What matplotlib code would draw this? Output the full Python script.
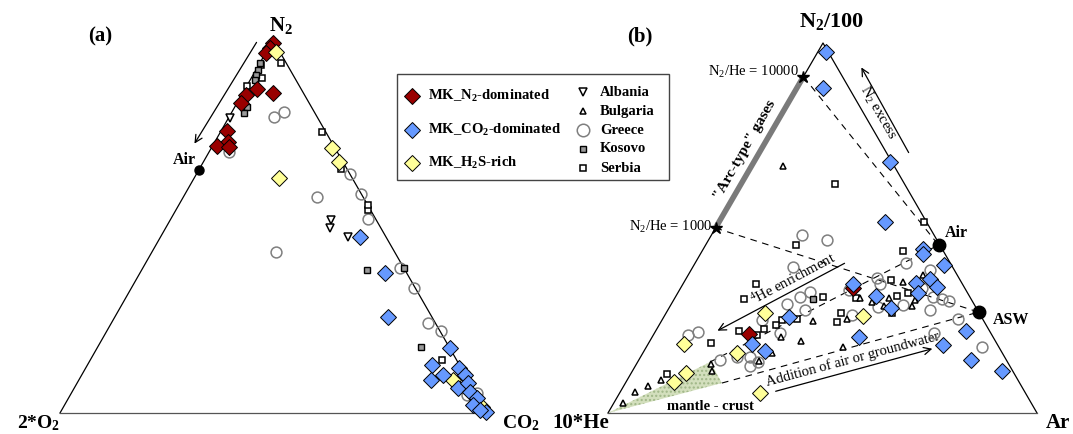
import matplotlib
matplotlib.use('Agg')
import matplotlib.pyplot as plt
import numpy as np
from matplotlib.patches import Polygon, Rectangle

plt.rcParams['font.family'] = ['Liberation Serif', 'DejaVu Serif']
plt.rcParams['mathtext.default'] = 'regular'

# ---------------- DATA ----------------
# Panel (a): ternary % of N2 (top) and CO2 (right); 2*O2 = remainder
a_red_n2 = [99.2, 97.9, 96.5, 86.9, 85.8, 85.3, 83.1, 75.6, 72.7, 71.6, 71.3]
a_red_co2 = [0.3, 0.3, 0.0, 2.7, 7.0, 1.0, 1.0, 1.3, 3.0, 1.0, 3.9]
a_blue_n2 = [47.2, 37.5, 25.7, 17.4, 12.9, 8.8, 10.2, 12.1, 10.2, 6.7, 8.0, 5.6, 4.0, 2.1, 0.3, 0.8]
a_blue_co2 = [46.7, 57.3, 64.1, 82.6, 80.7, 82.5, 84.6, 87.4, 89.7, 89.8, 91.6, 93.2, 95.7, 95.6, 99.7, 98.0]
a_yel_n2 = [96.8, 63.0, 71.0, 67.3, 8.8, 1.6]
a_yel_co2 = [2.4, 19.8, 28.4, 31.7, 87.6, 98.0]
a_gre_n2 = [80.7, 79.4, 70.0, 57.9, 43.2, 64.1, 58.7, 52.0, 38.9, 33.5, 24.1, 22.0, 10.2, 4.8, 5.4]
a_gre_co2 = [12.1, 10.4, 4.6, 31.2, 29.0, 35.9, 41.1, 46.1, 60.2, 66.3, 74.1, 78.2, 89.7, 92.9, 95.0]
a_alb_n2 = [79.1, 51.7, 49.6, 47.2]
a_alb_co2 = [0.3, 37.6, 38.4, 43.8]
a_kos_n2 = [93.8, 92.0, 90.6, 89.3, 82.0, 80.4, 38.3, 17.7, 38.9]
a_kos_co2 = [0.0, 0.4, 0.8, 1.1, 2.8, 3.1, 52.9, 75.7, 61.2]
a_ser_n2 = [93.8, 89.8, 93.3, 87.7, 75.3, 65.4, 54.4, 14.2, 55.8]
a_ser_co2 = [4.9, 2.6, 0.5, 0.0, 23.7, 33.3, 44.9, 82.4, 44.2]

# Panel (b): ternary % of N2/100 (top) and Ar (right); 10*He = remainder
b_blue_n2 = [97.6, 87.8, 67.8, 51.6, 44.3, 43.0, 40.0, 34.9, 35.1, 36.2, 34.1, 32.4, 31.6, 28.4,
             25.9, 18.6, 16.8, 20.5, 22.2, 18.4, 14.3, 11.4]
b_blue_ar = [1.8, 6.0, 31.8, 38.8, 51.2, 51.9, 58.3, 39.7, 54.2, 57.0, 59.7, 56.1, 46.7, 51.8,
             29.2, 24.3, 28.2, 48.2, 72.3, 68.9, 77.4, 86.1]
b_red_n2 = [33.8, 21.4]
b_red_ar = [40.2, 22.2]
b_yel_n2 = [27.0, 18.6, 16.2, 10.8, 8.4, 26.2, 5.4]
b_yel_ar = [23.1, 8.4, 22.0, 12.8, 11.2, 46.3, 32.7]
b_gre_n2 = [48.1, 46.8, 39.5, 40.5, 36.5, 34.9, 33.2, 38.6, 33.8, 31.4, 30.8, 30.3, 27.8, 29.2,
            28.6, 26.5, 25.4, 21.6, 17.8, 31.4, 32.7, 27.8, 29.5, 25.1, 21.9, 21.1, 15.1, 14.3,
            15.1, 13.8, 12.7, 21.6]
b_gre_ar = [21.1, 27.6, 23.4, 49.2, 44.5, 46.0, 39.6, 55.8, 56.3, 60.1, 62.5, 64.4, 61.2, 54.2,
            48.6, 43.7, 68.9, 65.2, 78.3, 29.1, 30.7, 32.0, 27.0, 23.3, 10.1, 8.1, 22.5, 18.9,
            25.5, 28.1, 26.7, 29.3]
b_ser_n2 = [61.9, 51.6, 43.8, 45.4, 34.9, 30.8, 25.1, 25.4, 23.8, 22.7, 18.9, 22.2, 21.1, 10.5,
            31.4, 31.1, 35.9, 31.6, 32.4, 27.0, 27.0, 24.6]
b_ser_ar = [22.0, 47.9, 46.9, 21.1, 16.9, 16.3, 28.0, 31.4, 27.3, 25.0, 14.5, 19.4, 24.2, 8.5,
            34.4, 42.3, 48.0, 51.6, 53.7, 52.7, 40.8, 41.1]
b_kos_n2 = [30.8]
b_kos_ar = [32.4]
b_bul_n2 = [66.8, 16.2, 20.5, 19.5, 14.1, 13.2, 11.4, 8.9, 7.3, 5.7, 2.7, 24.9, 31.1, 25.4, 17.8,
            35.4, 37.3, 30.0, 31.1, 30.5, 28.9, 28.9]
b_bul_ar = [7.4, 30.1, 30.0, 35.1, 28.2, 17.4, 18.5, 7.9, 5.7, 3.5, 2.1, 35.4, 43.2, 43.0, 45.9,
            51.1, 54.8, 46.5, 49.8, 56.3, 56.4, 49.8]

# Reference compositions (vol %)
air_n2, air_o2, air_co2, air_ar, air_he = 78.084, 20.946, 0.04, 0.934, 0.000524
asw_n2_ar = 37.5          # N2/Ar in air-saturated water
arc_ratios = [1000, 10000]  # N2/He
mantle_crust_n2 = [0.0, 13.8, 8.1]
mantle_crust_ar = [0.0, 16.9, 22.5]

group_labels = ['MK_N$_2$-dominated', 'MK_CO$_2$-dominated', 'MK_H$_2$S-rich']
country_labels = ['Albania', 'Bulgaria', 'Greece', 'Kosovo', 'Serbia']

# ---------------- STYLE ----------------
RED, BLUE, YEL = '#990000', '#6699ff', '#ffff99'
GREY = '#7f7f7f'
sty = {
    'red': dict(marker='D', ms=7.8, mfc=RED, mec='black', mew=0.7, ls='none'),
    'blue': dict(marker='D', ms=7.8, mfc=BLUE, mec='black', mew=0.7, ls='none'),
    'yel': dict(marker='D', ms=7.8, mfc=YEL, mec='black', mew=0.7, ls='none'),
    'alb': dict(marker='v', ms=6, mfc='white', mec='black', mew=1.1, ls='none'),
    'bul': dict(marker='^', ms=5, mfc='white', mec='black', mew=1.1, ls='none'),
    'gre': dict(marker='o', ms=7.8, mfc='none', mec=GREY, mew=1.1, ls='none'),
    'kos': dict(marker='s', ms=5, mfc='#9a9a9a', mec='black', mew=1.0, ls='none'),
    'ser': dict(marker='s', ms=5, mfc='white', mec='black', mew=1.1, ls='none'),
}

fig = plt.figure(figsize=(10.73, 4.34), dpi=100)
ax = fig.add_axes([0, 0, 1, 1])
ax.set_xlim(0, 1073)
ax.set_ylim(434, 0)
ax.axis('off')

TRI_A = dict(left=(60, 413), right=(487, 413), top=(273, 40))
TRI_B = dict(left=(608, 413), right=(1037, 413), top=(823, 43))


def tern(tri, top, right):
    top = np.asarray(top, float) / 100.0
    right = np.asarray(right, float) / 100.0
    left = 1 - top - right
    L, R, T = tri['left'], tri['right'], tri['top']
    return (left * L[0] + right * R[0] + top * T[0],
            left * L[1] + right * R[1] + top * T[1])


def tern_raw(tri, top, right, left):
    s = top + right + left
    return tern(tri, 100 * top / s, 100 * right / s)


def draw_tri(tri, lw=0.9):
    L, R, T = tri['left'], tri['right'], tri['top']
    ax.plot([L[0], T[0], R[0]], [L[1], T[1], R[1]], color='black', lw=lw, zorder=2)
    ax.plot([L[0], R[0]], [L[1], R[1]], color='#555555', lw=lw, zorder=2)


# ---------------- PANEL (a) ----------------
draw_tri(TRI_A)
for key, n, c in [('gre', a_gre_n2, a_gre_co2), ('ser', a_ser_n2, a_ser_co2),
                  ('kos', a_kos_n2, a_kos_co2), ('alb', a_alb_n2, a_alb_co2),
                  ('red', a_red_n2, a_red_co2), ('yel', a_yel_n2, a_yel_co2),
                  ('blue', a_blue_n2, a_blue_co2)]:
    x, y = tern(TRI_A, n, c)
    ax.plot(x, y, zorder=4, **sty[key])

ax_x, ax_y = tern_raw(TRI_A, air_n2, air_co2, 2 * air_o2)
ax.plot([ax_x], [ax_y], 'o', ms=6.5, color='black', zorder=6)
ax.text(184, 160, 'Air', ha='center', va='center', fontsize=11.5, fontweight='bold')
ax.annotate('', xy=(193, 146), xytext=(258, 40),
            arrowprops=dict(arrowstyle='->', lw=0.9, color='black', mutation_scale=13))

ax.text(100, 36, '(a)', ha='center', va='center', fontsize=15, fontweight='bold')
ax.text(281, 25, 'N$_2$', ha='center', va='center', fontsize=15, fontweight='bold')
ax.text(39, 433, '2*O$_2$', ha='center', va='bottom', fontsize=14, fontweight='bold')
ax.text(521, 433, 'CO$_2$', ha='center', va='bottom', fontsize=14, fontweight='bold')

# ---------------- LEGEND ----------------
ax.add_patch(Rectangle((397, 74), 272, 106, fill=False, ec='#444444', lw=1.0, zorder=5))
for key, lab, yy in zip(['red', 'blue', 'yel'], group_labels, [96, 130, 163]):
    ax.plot([412], [yy], zorder=6, **sty[key])
    ax.text(428, yy, lab, ha='left', va='center', fontsize=10.5, fontweight='bold')
for key, lab, yy in zip(['alb', 'bul', 'gre', 'kos', 'ser'], country_labels, [92, 111, 130, 149, 168]):
    st = dict(sty[key])
    if key == 'gre':
        st['ms'] = 9
    ax.plot([583], [yy], zorder=6, **st)
    ax.text(600, yy, lab, ha='left', va='center', fontsize=10.5, fontweight='bold')

# ---------------- PANEL (b) ----------------
draw_tri(TRI_B)

# mantle - crust field
mx, my = tern(TRI_B, mantle_crust_n2, mantle_crust_ar)
ax.add_patch(Polygon(np.column_stack([mx, my]), closed=True, fc='#d3dfbd', ec='#9fb687',
                     hatch='....', lw=0, zorder=1))

# reference points
air_bx, air_by = tern_raw(TRI_B, air_n2 / 100, air_ar, 10 * air_he)
asw_bx, asw_by = tern_raw(TRI_B, 1.0 / 100, 1.0 / asw_n2_ar, 0.0)
stars = [tern_raw(TRI_B, 1.0 / 100, 0.0, 10.0 / r) for r in arc_ratios]

# dashed mixing lines
dl = dict(color='black', lw=0.8, ls=(0, (6, 5)), zorder=2)
ax.plot([stars[1][0], air_bx], [stars[1][1], air_by], **dl)
ax.plot([stars[0][0], asw_bx], [stars[0][1], asw_by], **dl)
ax.plot([mx[1], air_bx], [my[1], air_by], **dl)
ax.plot([mx[2], asw_bx], [my[2], asw_by], **dl)

# arc-type gases
ax.plot([stars[0][0], stars[1][0]], [stars[0][1], stars[1][1]], color='#7a7a7a', lw=4, zorder=3,
        solid_capstyle='butt')
for sx, sy in stars:
    ax.plot([sx], [sy], marker='*', ms=9, color='black', zorder=6, ls='none')

for key, n, r in [('gre', b_gre_n2, b_gre_ar), ('ser', b_ser_n2, b_ser_ar),
                  ('kos', b_kos_n2, b_kos_ar), ('bul', b_bul_n2, b_bul_ar),
                  ('red', b_red_n2, b_red_ar), ('yel', b_yel_n2, b_yel_ar),
                  ('blue', b_blue_n2, b_blue_ar)]:
    x, y = tern(TRI_B, n, r)
    ax.plot(x, y, zorder=4, **sty[key])

ax.plot([air_bx], [air_by], 'o', ms=9, color='black', zorder=6)
ax.plot([asw_bx], [asw_by], 'o', ms=9, color='black', zorder=6)
ax.text(945, 233, 'Air', ha='left', va='center', fontsize=11.5, fontweight='bold')
ax.text(993, 320, 'ASW', ha='left', va='center', fontsize=11.5, fontweight='bold')

ax.text(799, 72, 'N$_2$/He = 10000', ha='right', va='center', fontsize=10.5)
ax.text(712, 227, 'N$_2$/He = 1000', ha='right', va='center', fontsize=10.5)
ax.text(745, 150, '"Arc-type" gases', ha='center', va='center', fontsize=11,
        fontweight='bold', rotation=60.5, rotation_mode='anchor')

ax.annotate('', xy=(860, 65), xytext=(910, 155),
            arrowprops=dict(arrowstyle='->', lw=0.9, color='black', mutation_scale=13))
ax.text(878, 113, 'N$_2$ excess', ha='center', va='center', fontsize=10.5, rotation=-60,
        rotation_mode='anchor')

ax.annotate('', xy=(715, 332), xytext=(847, 262),
            arrowprops=dict(arrowstyle='->', lw=0.9, color='black', mutation_scale=13))
ax.text(793, 279, '$^4$He enrichment', ha='center', va='center', fontsize=10.5, rotation=28,
        rotation_mode='anchor')

ax.annotate('', xy=(935, 348), xytext=(773, 392),
            arrowprops=dict(arrowstyle='->', lw=0.9, color='black', mutation_scale=13))
ax.text(853, 359, 'Addition of air or groundwater', ha='center', va='center', fontsize=10.5,
        rotation=15, rotation_mode='anchor')

ax.text(710, 407, 'mantle - crust', ha='center', va='center', fontsize=10.5, fontweight='bold')

ax.text(640, 36, '(b)', ha='center', va='center', fontsize=15, fontweight='bold')
ax.text(832, 22, 'N$_2$/100', ha='center', va='center', fontsize=16, fontweight='bold')
ax.text(581, 433, '10*He', ha='center', va='bottom', fontsize=15, fontweight='bold')
ax.text(1058, 433, 'Ar', ha='center', va='bottom', fontsize=15, fontweight='bold')

fig.savefig('out.png', dpi=100)
